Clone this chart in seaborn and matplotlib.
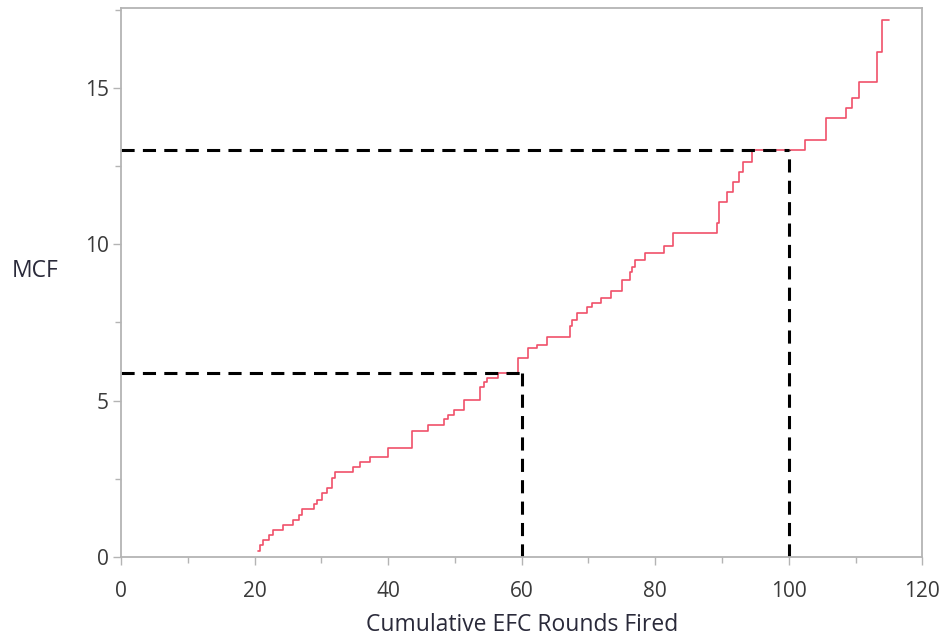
"""MCF step plot: cumulative EFC rounds fired"""
import pandas as pd
import matplotlib
matplotlib.use('Agg')
import matplotlib.pyplot as plt
from matplotlib.ticker import MultipleLocator
import seaborn as sns

sns.set_theme(style="white")
plt.rcParams['font.family'] = ['Open Sans', 'DejaVu Sans']

# step positions (rounds) and MCF value after each step
rounds = [20.5, 20.8, 21.3, 22.2, 22.8, 24.2, 25.8, 26.6, 27.1, 28.9, 29.3, 30.1,
          30.8, 31.6, 32.1, 34.8, 35.8, 37.3, 40.0, 43.5, 46.0, 48.3, 49.0, 49.8,
          51.3, 53.8, 54.3, 54.8, 56.5, 59.5, 61.0, 62.3, 63.8, 67.2, 67.5, 68.3,
          69.8, 70.5, 71.8, 73.3, 75.0, 76.2, 76.5, 77.0, 78.5, 81.3, 82.7, 89.2,
          89.5, 90.7, 91.7, 92.5, 93.2, 94.5, 102.5, 105.5, 108.5, 109.5, 110.5,
          113.2, 114.0, 115.0]
mcf = [0.20, 0.38, 0.54, 0.70, 0.86, 1.02, 1.18, 1.34, 1.53, 1.68, 1.82, 2.03,
       2.19, 2.51, 2.70, 2.87, 3.02, 3.19, 3.47, 4.04, 4.22, 4.40, 4.54, 4.70,
       5.02, 5.45, 5.61, 5.71, 5.87, 6.35, 6.67, 6.78, 7.03, 7.37, 7.58, 7.79,
       8.00, 8.13, 8.27, 8.50, 8.86, 9.12, 9.28, 9.50, 9.73, 9.95, 10.35, 10.67,
       11.36, 11.68, 12.00, 12.32, 12.64, 13.00, 13.34, 14.03, 14.35, 14.67, 15.20,
       16.16, 17.17, 17.17]

# reference read-offs (rounds, MCF)
ref_x = [60, 100]
ref_y = [5.88, 13.0]

df = pd.DataFrame({'rounds': rounds, 'mcf': mcf})

fig = plt.figure(figsize=(9.46, 6.35), dpi=100)
ax = fig.add_axes([0.128, 0.123, 0.847, 0.864])

sns.lineplot(data=df, x='rounds', y='mcf', ax=ax, estimator=None,
             drawstyle='steps-post', color='#f0506a', linewidth=1.2)

for rx, ry in zip(ref_x, ref_y):
    ax.plot([0, rx], [ry, ry], color='black', linewidth=2.2, dashes=(4.3, 2.7))
    ax.plot([rx, rx], [0, ry], color='black', linewidth=2.2, dashes=(4.3, 2.7))

ax.set_xlim(0, 120)
ax.set_ylim(0, 17.55)
ax.xaxis.set_major_locator(MultipleLocator(20))
ax.xaxis.set_minor_locator(MultipleLocator(10))
ax.yaxis.set_major_locator(MultipleLocator(5))
ax.yaxis.set_minor_locator(MultipleLocator(2.5))

for s in ax.spines.values():
    s.set_color('#b4b4b4')
    s.set_linewidth(1.3)
ax.tick_params(which='major', direction='out', length=6, width=1, color='#b4b4b4',
               labelsize=15, labelcolor='#3a3a3a', left=True, bottom=True, pad=3)
ax.tick_params(axis='x', which='major', pad=11)
ax.tick_params(which='minor', direction='out', length=4, width=1, color='#b4b4b4',
               left=True, bottom=True)

ax.set_xlabel('Cumulative EFC Rounds Fired', fontsize=16.5, color='#2a2a3a', labelpad=8)
ax.set_ylabel('MCF', fontsize=16.5, color='#2a2a3a', rotation=0)
ax.yaxis.set_label_coords(-0.107, 0.5)
ax.grid(False)

plt.savefig('out.png', dpi=100)
plt.close()
